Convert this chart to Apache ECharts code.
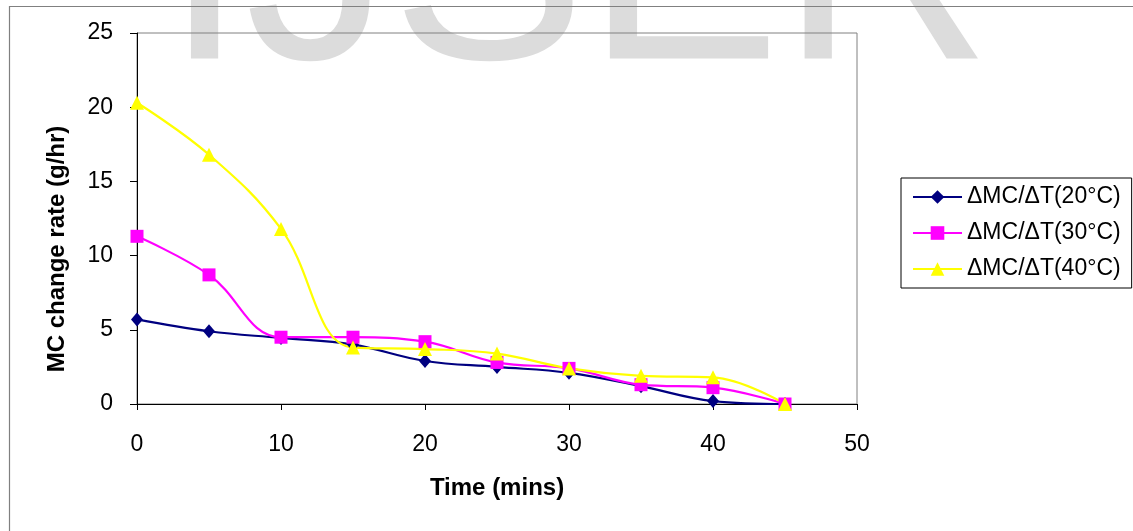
<!DOCTYPE html>
<html>
<head>
<meta charset="utf-8">
<style>
html,body{margin:0;padding:0;background:#fff;}
#c{width:1133px;height:531px;}
</style>
<script src="https://cdn.jsdelivr.net/npm/echarts@6/dist/echarts.min.js"></script>
</head>
<body>
<div id="c"></div>
<script>
// Data
var times = [0, 5, 10, 15, 20, 25, 30, 35, 40, 45];
var rate20 = [5.7, 4.9, 4.45, 4.0, 2.9, 2.5, 2.1, 1.2, 0.2, 0];
var rate30 = [11.3, 8.7, 4.5, 4.5, 4.2, 2.8, 2.4, 1.3, 1.1, 0];
var rate40 = [20.3, 16.8, 11.8, 3.8, 3.7, 3.4, 2.4, 1.9, 1.8, 0];
var seriesNames = ['\u0394MC/\u0394T(20\u00B0C)', '\u0394MC/\u0394T(30\u00B0C)', '\u0394MC/\u0394T(40\u00B0C)'];
var xTicks = {min: 0, max: 50, interval: 10};
var yTicks = {min: 0, max: 25, interval: 5};

function pairs(xs, ys) { return xs.map(function (x, i) { return [x, ys[i]]; }); }

var FONT = 'Liberation Sans, Arial, sans-serif';
var chart = echarts.init(document.getElementById('c'), null, {renderer: 'canvas'});

function mkSeries(name, data, color, symbol, size) {
  return {
    name: name, type: 'line', data: data,
    smooth: 0.4,
    symbol: symbol, symbolSize: size,
    lineStyle: {color: color, width: 2.2},
    itemStyle: {color: color},
    emphasis: {disabled: true},
    z: 3
  };
}

chart.setOption({
  animation: false,
  backgroundColor: '#fff',
  textStyle: {fontFamily: FONT},
  graphic: [
    {type: 'text', z: -10, silent: true, left: 164, top: -168,
     style: {text: 'IJSER', font: '292px ' + FONT, fill: '#dcdcdc'}},
    {type: 'rect', z: -5, silent: true, shape: {x: 9.5, y: 6.5, width: 1400, height: 800},
     style: {fill: 'none', stroke: '#808080', lineWidth: 1.2}},
    {type: 'text', silent: true, x: 57, y: 249, rotation: Math.PI / 2,
     style: {text: 'MC change rate (g/hr)', font: 'bold 24px ' + FONT, fill: '#000',
             align: 'center', verticalAlign: 'middle'}}
  ],
  grid: {left: 137, right: 276, top: 33, bottom: 127, show: true,
         borderColor: '#808080', borderWidth: 1, backgroundColor: 'transparent'},
  legend: {
    orient: 'vertical', left: 901, top: 178,
    padding: [7, 11, 7, 11], itemGap: 12,
    itemWidth: 49, itemHeight: 17,
    borderColor: '#000', borderWidth: 1, borderRadius: 0,
    backgroundColor: '#fff',
    textStyle: {fontSize: 23, color: '#000', fontFamily: FONT, lineHeight: 24, padding: [0, 0, 0, 0]},
    data: seriesNames
  },
  xAxis: {
    type: 'value', min: xTicks.min, max: xTicks.max, interval: xTicks.interval,
    name: 'Time (mins)', nameLocation: 'middle', nameGap: 72,
    nameTextStyle: {fontSize: 24, fontWeight: 'bold', color: '#000', fontFamily: FONT},
    axisLine: {show: true, lineStyle: {color: '#000', width: 1}},
    axisTick: {show: true, length: 6, inside: false, lineStyle: {color: '#000'}},
    axisLabel: {fontSize: 23, color: '#000', margin: 29, fontFamily: FONT},
    splitLine: {show: false}
  },
  yAxis: {
    type: 'value', min: yTicks.min, max: yTicks.max, interval: yTicks.interval,
    axisLine: {show: true, lineStyle: {color: '#000', width: 1}},
    axisTick: {show: true, length: 7, inside: false, lineStyle: {color: '#000'}},
    axisLabel: {fontSize: 23, color: '#000', margin: 24, fontFamily: FONT},
    splitLine: {show: false}
  },
  series: [
    mkSeries(seriesNames[0], pairs(times, rate20), '#000080', 'diamond', [12, 14]),
    mkSeries(seriesNames[1], pairs(times, rate30), '#FF00FF', 'rect', 13),
    mkSeries(seriesNames[2], pairs(times, rate40), '#FFFF00', 'triangle', 14)
  ]
});
</script>
</body>
</html>
